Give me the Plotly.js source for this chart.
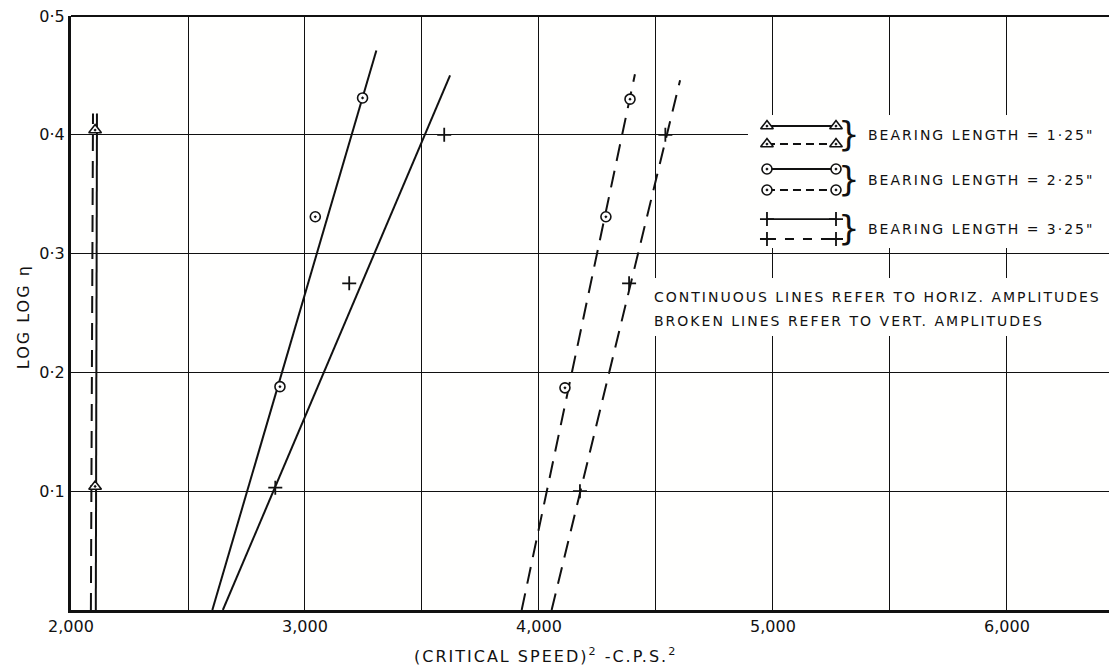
<!DOCTYPE html>
<html>
<head>
<meta charset="utf-8">
<script src="https://cdn.plot.ly/plotly-3.0.1.min.js"></script>
<style>
  html, body { margin: 0; padding: 0; background: #fff; }
  .annotation-text { letter-spacing: 2px; }
</style>
</head>
<body>
<div id="chart" style="width:1109px;height:666px;"></div>
<script>
// ---------------- data ----------------
const xTickVals = [2000, 3000, 4000, 5000, 6000];
const xTickText = ['2,000', '3,000', '4,000', '5,000', '6,000'];
const yTickVals = [0.1, 0.2, 0.3, 0.4, 0.5];
const yTickText = ['0·1', '0·2', '0·3', '0·4', '0·5'];

// bearing length 1.25"
const triPointsX = [2103, 2103];
const triPointsY = [0.404, 0.104];
const triSolidLineX = [2106, 2111];
const triSolidLineY = [0, 0.418];
const triDashLineX = [2085, 2094];
const triDashLineY = [0, 0.418];

// bearing length 2.25"
const circSolidX = [2893, 3044, 3246];
const circSolidY = [0.188, 0.331, 0.431];
const circSolidLineX = [2604, 3305];
const circSolidLineY = [0, 0.471];
const circDashX = [4111, 4286, 4389];
const circDashY = [0.187, 0.331, 0.430];
const circDashLineX = [3926, 4410];
const circDashLineY = [0, 0.451];

// bearing length 3.25"
const plusSolidX = [2873, 3189, 3595];
const plusSolidY = [0.103, 0.275, 0.400];
const plusSolidLineX = [2649, 3620];
const plusSolidLineY = [0, 0.450];
const plusDashX = [4175, 4385, 4540];
const plusDashY = [0.100, 0.275, 0.400];
const plusDashLineX = [4054, 4603];
const plusDashLineY = [0, 0.446];

const legendLabels = ['BEARING LENGTH = 1·25"', 'BEARING LENGTH = 2·25"', 'BEARING LENGTH = 3·25"'];
const noteLines = ['CONTINUOUS LINES REFER TO HORIZ. AMPLITUDES', 'BROKEN LINES REFER TO VERT. AMPLITUDES'];
const xTitle = '(CRITICAL SPEED)<sup>2</sup> -C.P.S.<sup>2</sup>';
const yTitle = 'LOG LOG η';

// ---------------- styles ----------------
const INK = '#111';
const FONT = 'DejaVu Sans, Liberation Sans, sans-serif';
const DASH = '17px,10px';
const triMarker = {symbol: 'triangle-up-dot', size: 11, color: '#fff', line: {color: INK, width: 1.6}};
const circMarker = {symbol: 'circle-dot', size: 10, color: '#fff', line: {color: INK, width: 1.6}};
const plusMarker = {symbol: 'cross-thin-open', size: 10, color: INK, line: {color: INK, width: 1.8}};

function lineTrace(x, y, dash) {
  return {x: x, y: y, mode: 'lines', type: 'scatter', hoverinfo: 'skip',
          line: {color: INK, width: 2, dash: dash || 'solid'}, showlegend: false};
}
function pointTrace(x, y, marker) {
  return {x: x, y: y, mode: 'markers', type: 'scatter', hoverinfo: 'skip',
          marker: marker, showlegend: false};
}

const traces = [
  lineTrace(triSolidLineX, triSolidLineY),
  lineTrace(triDashLineX, triDashLineY, DASH),
  lineTrace(circSolidLineX, circSolidLineY),
  lineTrace(circDashLineX, circDashLineY, DASH),
  lineTrace(plusSolidLineX, plusSolidLineY),
  lineTrace(plusDashLineX, plusDashLineY, DASH),
  pointTrace(triPointsX, triPointsY, triMarker),
  pointTrace(circSolidX, circSolidY, circMarker),
  pointTrace(circDashX, circDashY, circMarker),
  pointTrace(plusSolidX, plusSolidY, plusMarker),
  pointTrace(plusDashX, plusDashY, plusMarker)
];

// ---------------- hand-drawn key: its own white subplot over the grid ----------------
const keyBoxX = [0.6522, 1.0];
const keyBoxY = [0.6094, 0.8333];
const noteBoxX = [0.5626, 1.0];
const noteBoxY = [0.4613, 0.5589];
const keyX0 = 0.6705, keyX1 = 0.7370;
const keyRows = [
  {y: 0.8148, marker: triMarker, dash: 'solid'},
  {y: 0.7845, marker: triMarker, dash: '8px,5px'},
  {y: 0.7424, marker: circMarker, dash: 'solid'},
  {y: 0.7071, marker: circMarker, dash: '8px,5px'},
  {y: 0.6582, marker: plusMarker, dash: 'solid'},
  {y: 0.6246, marker: plusMarker, dash: '9px,9px'}
];
keyRows.forEach(function (r) {
  traces.push({x: [keyX0, keyX1], y: [r.y, r.y], xaxis: 'x3', yaxis: 'y3', mode: 'lines+markers',
               type: 'scatter', hoverinfo: 'skip', showlegend: false,
               line: {color: INK, width: 1.8, dash: r.dash}, marker: r.marker});
});
// empty trace so that the note's white subplot exists
traces.push({x: [], y: [], xaxis: 'x4', yaxis: 'y4', type: 'scatter', mode: 'markers',
             hoverinfo: 'skip', showlegend: false});

const keyTextY = [0.7997, 0.7239, 0.6414];
const annotations = [];
legendLabels.forEach(function (t, i) {
  annotations.push({xref: 'paper', yref: 'paper', x: 0.7655, y: keyTextY[i], xanchor: 'left', yanchor: 'middle',
                    text: t, showarrow: false, font: {family: FONT, size: 14, color: INK}});
  annotations.push({xref: 'paper', yref: 'paper', x: 0.7500, y: keyTextY[i] + 0.002, xanchor: 'center', yanchor: 'middle',
                    text: '}', showarrow: false, font: {family: FONT, size: 34, color: INK}});
});
const noteY = [0.527, 0.4865];
noteLines.forEach(function (t, i) {
  annotations.push({xref: 'paper', yref: 'paper', x: 0.5600, y: noteY[i], xanchor: 'left', yanchor: 'middle',
                    text: t, showarrow: false, font: {family: FONT, size: 14, color: INK}});
});
annotations.push({xref: 'paper', yref: 'paper', x: 0.4576, y: -0.0774, xanchor: 'center', yanchor: 'middle',
                  text: xTitle, showarrow: false, font: {family: FONT, size: 16, color: INK}});
annotations.push({xref: 'paper', yref: 'paper', x: -0.0462, y: 0.493, xanchor: 'center', yanchor: 'middle',
                  text: yTitle, textangle: -90, showarrow: false, font: {family: FONT, size: 16, color: INK}});

const shapes = [
  {type: 'line', xref: 'paper', yref: 'paper', x0: 0, x1: 1, y0: 1, y1: 1, line: {color: INK, width: 2}}
];

const hiddenAxis = {visible: false, showgrid: false, zeroline: false, fixedrange: true};
const layout = {
  width: 1109, height: 666,
  margin: {l: 71, r: 0, t: 16, b: 56},
  paper_bgcolor: '#ffffff', plot_bgcolor: '#fffffe',
  showlegend: false,
  font: {family: FONT, color: INK, size: 16},
  xaxis: {range: [2000, 6436], tickmode: 'array', tickvals: xTickVals, ticktext: xTickText,
          showgrid: true, gridcolor: INK, gridwidth: 1, zeroline: false,
          minor: {tick0: 2000, dtick: 500, showgrid: true, gridcolor: INK, gridwidth: 1, ticks: ''},
          showline: true, linecolor: INK, linewidth: 3, ticks: '',
          tickfont: {family: FONT, size: 16, color: INK}, fixedrange: true},
  yaxis: {range: [0, 0.5], tickmode: 'array', tickvals: yTickVals, ticktext: yTickText,
          showgrid: true, gridcolor: INK, gridwidth: 1.2, zeroline: false,
          showline: true, linecolor: INK, linewidth: 3, ticks: '',
          tickfont: {family: FONT, size: 16, color: INK}, fixedrange: true},
  xaxis3: Object.assign({domain: keyBoxX, range: keyBoxX, anchor: 'y3'}, hiddenAxis),
  yaxis3: Object.assign({domain: keyBoxY, range: keyBoxY, anchor: 'x3'}, hiddenAxis),
  xaxis4: Object.assign({domain: noteBoxX, range: [0, 1], anchor: 'y4'}, hiddenAxis),
  yaxis4: Object.assign({domain: noteBoxY, range: [0, 1], anchor: 'x4'}, hiddenAxis),
  shapes: shapes,
  annotations: annotations
};

Plotly.newPlot('chart', traces, layout, {displayModeBar: false, staticPlot: true});
</script>
</body>
</html>
